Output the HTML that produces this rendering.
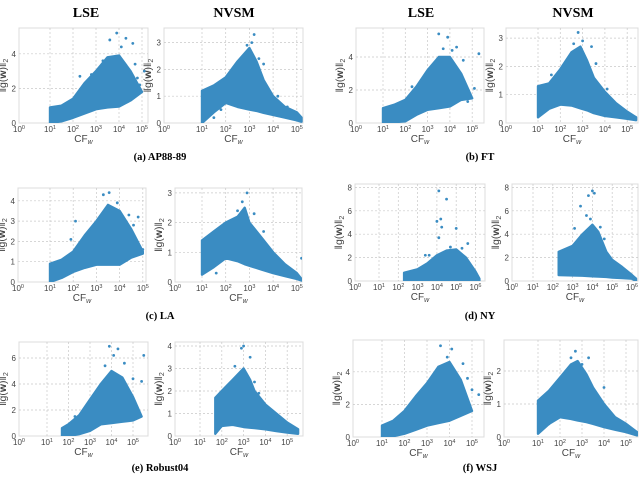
<!DOCTYPE html>
<html><head><meta charset="utf-8"><style>
html,body{margin:0;padding:0;background:#fff;}
svg{display:block;}
text{font-family:"Liberation Sans",sans-serif;}
.t{font-family:"Liberation Serif",serif;font-weight:bold;}
</style></head><body>
<svg id="fig" width="640" height="477" viewBox="0 0 640 477" xmlns="http://www.w3.org/2000/svg">
<text class="t" x="86" y="17" font-size="14" text-anchor="middle">LSE</text>
<text class="t" x="234" y="17" font-size="14" text-anchor="middle">NVSM</text>
<text class="t" x="421" y="17" font-size="14" text-anchor="middle">LSE</text>
<text class="t" x="573" y="17" font-size="14" text-anchor="middle">NVSM</text>
<text class="t" x="160" y="160" font-size="10.5" text-anchor="middle">(a) AP88-89</text>
<text class="t" x="480" y="160" font-size="10.5" text-anchor="middle">(b) FT</text>
<text class="t" x="160" y="319" font-size="10.5" text-anchor="middle">(c) LA</text>
<text class="t" x="480" y="319" font-size="10.5" text-anchor="middle">(d) NY</text>
<text class="t" x="160" y="471" font-size="10.5" text-anchor="middle">(e) Robust04</text>
<text class="t" x="480" y="471" font-size="10.5" text-anchor="middle">(f) WSJ</text>
</svg>
<script>
// ---- data (log10 CF_w, ||g(w)||_2) ----
const apLseX=[1,1.5,2,2.5,3,3.5,4,4.5,5];
const apLseUp=[0.9,1.0,1.4,2.3,3.0,3.8,3.9,3.0,1.8];
const apLseLo=[0,0.1,0.3,0.55,0.8,0.9,0.95,1.3,1.8];
const apLseOx=[3.9,4.3,4.6,5.1,2.3,3.6,4.8,4.7,4.9,3.3,4.1,2.8];
const apLseOy=[5.2,4.9,4.6,3.0,2.7,4.8,2.6,3.4,2.2,3.6,4.4,2.8];

const apNvX=[1,1.5,2,2.5,3,3.3,3.6,4,4.5,5,5.2];
const apNvUp=[1.2,1.4,1.7,2.3,2.8,2.3,1.6,1.0,0.6,0.4,0.2];
const apNvLo=[0.0,0.4,0.75,0.6,0.5,0.45,0.38,0.3,0.2,0.1,0.05];
const apNvOx=[3.2,3.1,3.6,4.6,1.5,2.9,3.4,4.2,1.8];
const apNvOy=[3.3,3.0,2.2,0.6,0.2,2.9,2.4,1.0,0.5];

const ftLseX=[1,1.5,2,2.5,3,3.5,4,4.5,5];
const ftLseUp=[0.9,1.1,1.4,2.2,3.2,4.0,4.0,3.0,1.5];
const ftLseLo=[0,0.05,0.1,0.5,0.8,0.9,1.0,1.4,1.5];
const ftLseOx=[3.5,3.9,4.3,5.3,2.3,4.8,5.1,4.6,4.1,3.7];
const ftLseOy=[5.4,5.2,4.6,4.2,2.2,1.3,2.1,3.8,4.4,4.5];

const ftNvX=[1,1.5,2,2.5,2.9,3.2,3.5,4,4.5,5,5.4];
const ftNvUp=[1.3,1.4,1.9,2.5,2.7,2.2,1.6,1.1,0.7,0.4,0.2];
const ftNvLo=[0.2,0.5,0.65,0.62,0.52,0.45,0.35,0.25,0.2,0.15,0.1];
const ftNvOx=[2.8,2.6,3.4,3.6,1.6,3.0,4.1];
const ftNvOy=[3.2,2.8,2.7,2.1,1.7,2.9,1.2];

const laLseX=[1,1.5,2,2.5,3,3.5,4,4.5,5];
const laLseUp=[0.9,1.1,1.5,2.3,3.0,3.8,3.5,2.6,1.5];
const laLseLo=[0,0.2,0.5,0.7,0.85,0.85,0.85,1.2,1.4];
const laLseOx=[3.3,3.55,4.8,5.0,2.1,1.9,4.4,4.6,3.9];
const laLseOy=[4.3,4.4,3.2,1.6,3.0,2.1,3.3,2.8,3.9];

const laNvX=[1,1.5,2,2.5,2.8,3,3.5,4,4.5,5,5.2];
const laNvUp=[1.4,1.7,2.0,2.2,2.5,2.0,1.5,1.0,0.6,0.3,0.1];
const laNvLo=[0.25,0.5,0.8,0.7,0.6,0.55,0.42,0.3,0.2,0.1,0.05];
const laNvOx=[2.9,2.7,3.2,5.2,1.6,2.5,3.6];
const laNvOy=[3.0,2.7,2.3,0.8,0.3,2.4,1.7];

const nyLseX=[2.3,3,3.5,4,4.5,5,5.5,6,6.2];
const nyLseUp=[0.7,1.0,1.5,2.2,2.6,2.7,2.0,0.8,0.2];
const nyLseLo=[0,0,0,0,0,0,0,0,0];
const nyLseOx=[4.1,4.5,4.0,4.2,4.25,5.0,4.1,5.6,3.4,3.6,4.7,5.3];
const nyLseOy=[7.7,7.0,5.1,5.3,4.6,4.5,3.7,3.2,2.2,2.2,2.9,2.8];

const nyNvX=[2.3,3,3.5,4,4.3,4.7,5,5.5,6,6.2];
const nyNvUp=[2.5,3.0,4.0,4.8,4.2,2.5,1.8,1.2,0.5,0.2];
const nyNvLo=[0.5,0.48,0.45,0.4,0.38,0.35,0.3,0.25,0.2,0];
const nyNvOx=[4.0,3.8,4.1,3.4,3.7,3.1,4.4,4.6,3.9];
const nyNvOy=[7.7,7.3,7.5,6.4,5.6,4.5,4.6,3.6,5.3];

const roLseX=[1.7,2,2.5,3,3.5,4,4.5,5,5.4];
const roLseUp=[0.6,0.9,1.6,2.8,4.0,5.0,4.5,3.0,1.5];
const roLseLo=[0,0,0.15,0.4,0.9,1.0,1.1,1.2,1.5];
const roLseOx=[3.9,4.3,4.1,5.5,5.4,2.3,4.6,3.7,5.0];
const roLseOy=[6.9,6.7,6.2,6.2,4.2,1.5,5.6,5.4,4.4];

const roNvX=[1.7,2,2.5,3,3.3,3.5,4,4.5,5,5.5];
const roNvUp=[1.7,2.0,2.5,3.0,2.5,2.0,1.4,1.0,0.6,0.3];
const roNvLo=[0.1,0.45,0.5,0.4,0.37,0.35,0.3,0.22,0.15,0.1];
const roNvOx=[3.0,2.9,3.3,3.7,3.5,2.6];
const roNvOy=[4.0,3.9,3.5,1.9,2.4,3.1];

const wsLseX=[1,1.5,2,2.5,3,3.5,4,4.5,5];
const wsLseUp=[0.7,1.0,1.6,2.5,3.3,4.3,4.6,3.5,1.6];
const wsLseLo=[0,0.05,0.2,0.45,0.7,0.85,1.0,1.3,1.6];
const wsLseOx=[3.6,4.1,4.6,5.3,2.6,4.8,5.0,3.9];
const wsLseOy=[5.6,5.4,4.5,2.6,2.5,3.6,2.9,4.9];

const wsNvX=[1,1.5,2,2.5,2.8,3.2,3.5,4,4.5,5,5.5];
const wsNvUp=[1.1,1.4,1.8,2.2,2.3,1.9,1.5,1.0,0.6,0.4,0.15];
const wsNvLo=[0.1,0.4,0.6,0.55,0.5,0.45,0.4,0.3,0.22,0.15,0.05];
const wsNvOx=[2.7,2.5,3.3,4.0,1.5,3.0];
const wsNvOy=[2.6,2.4,2.4,1.5,0.4,2.2];

// ---- layout ----
const panels=[
 {n:'ap-lse',x0:19,x1:148,top:28,bot:123,d1:50,dw:23,yu:17.3,yt:[0,2,4],X:apLseX,U:apLseUp,L:apLseLo,OX:apLseOx,OY:apLseOy},
 {n:'ap-nvsm',x0:164,x1:303,top:28,bot:123,d1:202,dw:23.7,yu:26.8,yt:[0,1,2,3],X:apNvX,U:apNvUp,L:apNvLo,OX:apNvOx,OY:apNvOy},
 {n:'ft-lse',x0:356,x1:484,top:28,bot:123,d1:383,dw:22.3,yu:16.5,yt:[0,2,4],X:ftLseX,U:ftLseUp,L:ftLseLo,OX:ftLseOx,OY:ftLseOy},
 {n:'ft-nvsm',x0:506,x1:638,top:28,bot:123,d1:538,dw:22.3,yu:28.3,yt:[0,1,2,3],X:ftNvX,U:ftNvUp,L:ftNvLo,OX:ftNvOx,OY:ftNvOy},
 {n:'la-lse',x0:18,x1:146,top:188,bot:282,d1:50,dw:23.2,yu:20.3,yt:[0,1,2,3,4],X:laLseX,U:laLseUp,L:laLseLo,OX:laLseOx,OY:laLseOy},
 {n:'la-nvsm',x0:175,x1:302,top:188,bot:282,d1:202,dw:23.7,yu:29.7,yt:[0,1,2,3],X:laNvX,U:laNvUp,L:laNvLo,OX:laNvOx,OY:laNvOy},
 {n:'ny-lse',x0:355,x1:485,top:184,bot:281,d1:379,dw:19.3,yu:11.7,yt:[0,2,4,6,8],X:nyLseX,U:nyLseUp,L:nyLseLo,OX:nyLseOx,OY:nyLseOy},
 {n:'ny-nvsm',x0:512,x1:638,top:184,bot:281,d1:533,dw:19.8,yu:11.7,yt:[0,2,4,6,8],X:nyNvX,U:nyNvUp,L:nyNvLo,OX:nyNvOx,OY:nyNvOy},
 {n:'robust04-lse',x0:19,x1:148,top:342,bot:436,d1:47,dw:21.5,yu:13,yt:[0,2,4,6],X:roLseX,U:roLseUp,L:roLseLo,OX:roLseOx,OY:roLseOy},
 {n:'robust04-nvsm',x0:175,x1:303,top:342,bot:436,d1:200,dw:21.8,yu:22.5,yt:[0,1,2,3,4],X:roNvX,U:roNvUp,L:roNvLo,OX:roNvOx,OY:roNvOy},
 {n:'wsj-lse',x0:353,x1:484,top:340,bot:437,d1:382,dw:22.5,yu:16.3,yt:[0,2,4],X:wsLseX,U:wsLseUp,L:wsLseLo,OX:wsLseOx,OY:wsLseOy},
 {n:'wsj-nvsm',x0:504,x1:638,top:340,bot:437,d1:538,dw:22,yu:33,yt:[0,1,2],X:wsNvX,U:wsNvUp,L:wsNvLo,OX:wsNvOx,OY:wsNvOy}
];
const NS='http://www.w3.org/2000/svg';
const svg=document.getElementById('fig');
const BLUE='#3a8cc2';
function mk(tag,attrs,parent){const e=document.createElementNS(NS,tag);for(const k in attrs)e.setAttribute(k,attrs[k]);(parent||svg).appendChild(e);return e;}
panels.forEach((p,i)=>{
 const g=mk('g',{});
 
 
 const sx=v=>p.d1+(v-1)*p.dw;
 const sy=v=>p.bot-v*p.yu;
 const cid='clip'+i;
 const cp=mk('clipPath',{id:cid},g);
 mk('rect',{x:p.x0,y:p.top,width:p.x1-p.x0,height:p.bot-p.top},cp);
 const bg=mk('rect',{x:p.x0,y:p.top,width:p.x1-p.x0,height:p.bot-p.top,fill:'#fff',stroke:'#dcdcdc','stroke-width':1},g);
 
 
 const maxE=Math.floor((p.x1-p.d1)/p.dw+1+0.05);
 for(let e=1;e<=maxE;e++){
  const x=sx(e);
  if(x>p.x1)break;
  const gl=mk('line',{x1:x,x2:x,y1:p.top,y2:p.bot,stroke:'#c8c8c8','stroke-dasharray':'2,2','stroke-width':0.7},g);
  
  
  const t=mk('text',{x:x,y:p.bot+9,'font-size':8,fill:'#444','text-anchor':'middle'},g);
  
  
  t.innerHTML='10<tspan dy="-3" font-size="5.5">'+e+'</tspan>';
 }
 const t0=mk('text',{x:p.x0,y:p.bot+9,'font-size':8,fill:'#444','text-anchor':'middle'},g);
 
 
 t0.innerHTML='10<tspan dy="-3" font-size="5.5">0</tspan>';
 p.yt.forEach(v=>{
  const y=sy(v);
  if(v>0){const gl=mk('line',{x1:p.x0,x2:p.x1,y1:y,y2:y,stroke:'#c8c8c8','stroke-dasharray':'2,2','stroke-width':0.7},g);
  
  }
  const t=mk('text',{x:p.x0-3,y:y+3,'font-size':8,fill:'#444','text-anchor':'end'},g);
  
  
  t.textContent=v;
 });
 let pts=[];
 p.X.forEach((v,j)=>pts.push(sx(v).toFixed(1)+','+sy(p.U[j]).toFixed(1)));
 for(let j=p.X.length-1;j>=0;j--)pts.push(sx(p.X[j]).toFixed(1)+','+sy(p.L[j]).toFixed(1));
 const cl=mk('polygon',{points:pts.join(' '),fill:BLUE,stroke:BLUE,'stroke-width':2.4,'stroke-linejoin':'round','clip-path':'url(#'+cid+')'},g);
 
 
 p.OX.forEach((v,j)=>{
  const c=mk('circle',{cx:sx(v),cy:sy(p.OY[j]),r:1.4,fill:BLUE,'clip-path':'url(#'+cid+')'},g);
  
  
 });
 const xl=mk('text',{x:(p.x0+p.x1)/2,y:p.bot+19,'font-size':10,fill:'#444','text-anchor':'middle'},g);
 
 
 xl.innerHTML='CF<tspan dy="2" font-size="7" font-style="italic">w</tspan>';
 const yc=(p.top+p.bot)/2, yx=p.x0-13;
 const yl=mk('text',{x:yx,y:yc,'font-size':10.5,fill:'#444','text-anchor':'middle',transform:'rotate(-90 '+yx+' '+yc+')'},g);
 
 
 yl.innerHTML='‖g(<tspan font-weight="bold">w</tspan>)‖<tspan dy="2" font-size="7">2</tspan>';
});
</script>
</body></html>
